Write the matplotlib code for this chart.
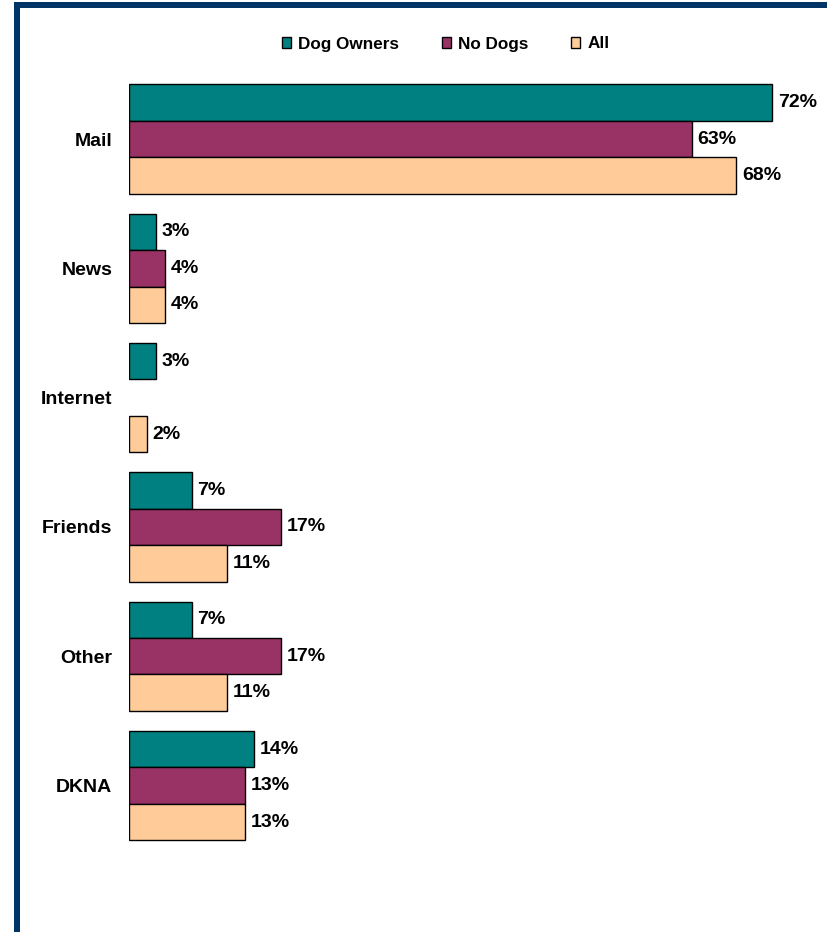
import matplotlib
matplotlib.use("Agg")
import matplotlib.pyplot as plt
from matplotlib.patches import Patch, Rectangle
import numpy as np

plt.rcParams["font.family"] = ["Liberation Sans", "DejaVu Sans"]
plt.rcParams["font.weight"] = "bold"

# source of information, by respondent group (percent); None = no response shown
categories = ["Mail", "News", "Internet", "Friends", "Other", "DKNA"]
dog_owners = [72, 3, 3, 7, 7, 14]
no_dogs = [63, 4, None, 17, 17, 13]
all_resp = [68, 4, 2, 11, 11, 13]

series_names = ["Dog Owners", "No Dogs", "All"]
series_colors = ["#008080", "#993366", "#FFCC99"]

W, H = 828, 932
fig = plt.figure(figsize=(W / 100, H / 100), dpi=100)

# plot area placed in pixel terms
left_px, right_px = 129, 129 + 75 * 8.93
top_px, bot_px = 74.4, 850.2
ax = fig.add_axes([left_px / W, 1 - bot_px / H,
                   (right_px - left_px) / W, (bot_px - top_px) / H])

y = np.arange(len(categories))
bh = 0.282
for i, (vals, color) in enumerate(zip([dog_owners, no_dogs, all_resp], series_colors)):
    for j, v in enumerate(vals):
        if v is None:
            continue
        yc = y[j] + (i - 1) * bh
        ax.barh(yc, v, height=bh, color=color, edgecolor="black", linewidth=1.0)
        ax.annotate(f"{v}%", xy=(v, yc), xytext=(4.3, 0), textcoords="offset points",
                    ha="left", va="center", fontsize=14, fontweight="bold")

ax.set_xlim(0, 75)
ax.set_ylim(len(categories) - 0.5, -0.5)
ax.set_yticks(y)
ax.set_yticklabels(categories, fontsize=14, fontweight="bold")
ax.tick_params(axis="y", length=0, pad=12)
ax.set_xticks([])
for s in ax.spines.values():
    s.set_visible(False)

handles = [Patch(facecolor=c, edgecolor="black", linewidth=1.0) for c in series_colors]
fig.legend(handles, series_names, loc="center", ncol=3,
           bbox_to_anchor=(445.5 / W, 1 - 44 / H), frameon=False,
           prop={"size": 12.3, "weight": "bold"},
           handlelength=0.55, handleheight=0.55, handletextpad=0.4,
           columnspacing=2.5)

# dark blue frame on the left and top edges
frame = "#003366"
fig.patches.append(Rectangle((14 / W, 0), 6 / W, 1 - 2 / H, transform=fig.transFigure,
                             facecolor=frame, edgecolor="none"))
fig.patches.append(Rectangle((14 / W, 1 - 8 / H), 1, 6 / H, transform=fig.transFigure,
                             facecolor=frame, edgecolor="none"))

fig.savefig("out.png", dpi=100)
